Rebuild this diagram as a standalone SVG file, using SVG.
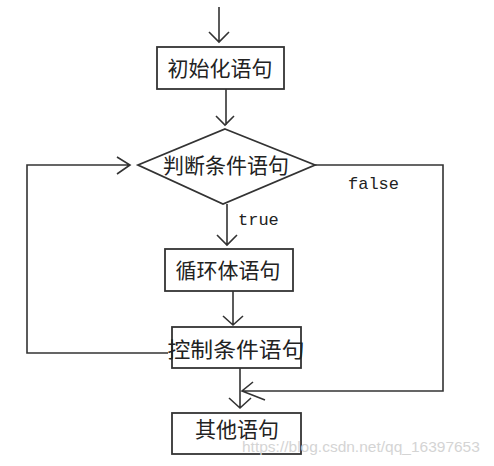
<svg xmlns="http://www.w3.org/2000/svg" width="494" height="466" viewBox="0 0 494 466">
<style>
.ln{fill:none;stroke:#333;stroke-width:1.6}
.bx{fill:#fff;stroke:#333;stroke-width:1.8}
.cn{font-family:"Noto Sans CJK SC","Noto Sans CJK JP",sans-serif;font-size:21px;fill:#222;text-anchor:middle}
.mn{font-family:"Liberation Mono","DejaVu Sans Mono",monospace;font-size:17px;fill:#222}
.wm{font-family:"Liberation Sans",Arial,sans-serif;font-size:15.5px;fill:#d4d4d4}
</style>
<rect width="494" height="466" fill="#fff"/>
<g id="connectors">
<path class="ln" d="M219 7V42M209 32L219 42L229 32"/>
<path class="ln" d="M226 89V125M216 116L225 125L234 116"/>
<path class="ln" d="M227 204V245M217 235L227 245L237 235"/>
<path class="ln" d="M233 291V325M223 316L233 325L243 316"/>
<path class="ln" d="M240 368V408M229 398L240 408L251 398"/>
<path class="ln" d="M168 353H27V165H130M117 157L130 165L117 174"/>
<path class="ln" d="M315 165H443V391H242M253 382L242 391L265 400"/>
</g>
<g id="n1">
<rect class="bx" x="157" y="47" width="127" height="42"/>
<text class="cn" x="220" y="76">初始化语句</text>
</g>
<g id="n2">
<polygon class="bx" points="225,129 315,165 223,204 138,165"/>
<text class="cn" x="226" y="173">判断条件语句</text>
</g>
<g id="n3">
<rect class="bx" x="165" y="249" width="128" height="42"/>
<text class="cn" x="228" y="278">循环体语句</text>
</g>
<g id="n4">
<rect class="bx" x="172" y="327" width="129" height="41"/>
<text class="cn" x="236" y="357" textLength="137" lengthAdjust="spacingAndGlyphs">控制条件语句</text>
</g>
<g id="n5">
<rect class="bx" x="172" y="413" width="129" height="41"/>
<text class="cn" x="237" y="437">其他语句</text>
</g>
<text class="mn" x="238" y="225">true</text>
<text class="mn" x="348" y="189">false</text>
<text class="wm" x="242" y="452">https://blog.csdn.net/qq_16397653</text>
</svg>
